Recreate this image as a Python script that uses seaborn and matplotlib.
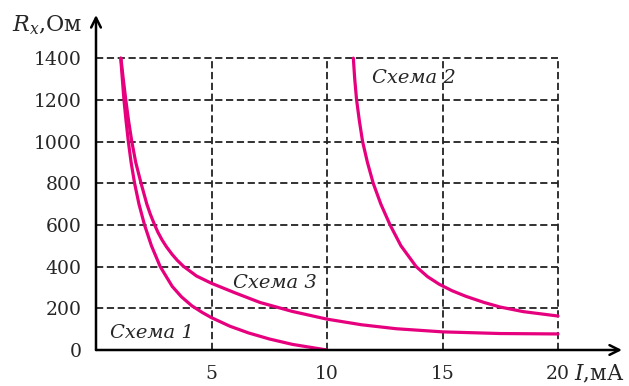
import pandas as pd
import matplotlib
matplotlib.use("Agg")
import matplotlib.pyplot as plt
import seaborn as sns

# values (I in mA, R in Ohm)
i_scheme1 = [1.07, 1.14, 1.21, 1.30, 1.40, 1.52, 1.67, 1.86, 2.10, 2.40, 2.78, 3.30,
             3.70, 4.15, 4.6, 5.0, 5.8, 6.6, 7.5, 8.5, 10.0]
r_scheme1 = [1400, 1300, 1200, 1100, 1000, 900, 800, 700, 600, 500, 400, 305,
             255, 212, 180, 155, 114, 82, 53, 27, 0]

i_scheme2 = [11.14, 11.2, 11.28, 11.4, 11.54, 11.75, 12.0, 12.33, 12.73, 13.2, 13.86,
             14.35, 14.85, 15.4, 16.0, 16.8, 17.5, 18.5, 20.0]
r_scheme2 = [1400, 1300, 1200, 1100, 1000, 900, 800, 700, 600, 500, 400,
             352, 316, 285, 258, 228, 206, 184, 163]

i_scheme3 = [1.08, 1.18, 1.29, 1.41, 1.55, 1.72, 1.95, 2.20, 2.35, 2.52, 2.68, 2.86,
             3.05, 3.30, 3.52, 3.78, 4.35, 5.0, 6.0, 7.1, 8.5, 10.0, 11.5, 13.0,
             15.0, 17.5, 20.0]
r_scheme3 = [1400, 1300, 1200, 1100, 1000, 900, 800, 700, 652, 605, 565, 528,
             495, 458, 430, 402, 355, 320, 275, 228, 185, 148, 121, 102,
             87, 79, 77]

x_ticks = [5, 10, 15, 20]
y_ticks = [0, 200, 400, 600, 800, 1000, 1200, 1400]

labels = ["Схема 1", "Схема 2", "Схема 3"]

df = pd.concat([
    pd.DataFrame({"I": i_scheme1, "R": r_scheme1, "scheme": labels[0]}),
    pd.DataFrame({"I": i_scheme2, "R": r_scheme2, "scheme": labels[1]}),
    pd.DataFrame({"I": i_scheme3, "R": r_scheme3, "scheme": labels[2]}),
])

sns.set_style("white")
plt.rcParams["font.family"] = ["DejaVu Serif"]
plt.rcParams["mathtext.fontset"] = "dejavuserif"

pink = "#e6007e"

fig = plt.figure(figsize=(6.29, 3.86), dpi=100)
ax = fig.add_axes([96 / 629, 36 / 386, 526 / 629, 335 / 386])

# dashed grid, closed at I=20 and R=1400
ax.hlines(y_ticks[1:], 0, 20, colors="#222222", linestyles=(0, (4, 2)), lw=1.3, zorder=1)
ax.vlines(x_ticks, 0, 1400, colors="#222222", linestyles=(0, (4, 2)), lw=1.3, zorder=1)

for name in labels:
    sub = df[df["scheme"] == name]
    sns.lineplot(data=sub, x="I", y="R", sort=False, color=pink, lw=2.3,
                 ax=ax, zorder=3, legend=False)

ax.set_xlim(0, 22.77)
ax.set_ylim(0, 1607)
ax.set_xticks(x_ticks)
ax.set_yticks(y_ticks)
ax.tick_params(direction="inout", length=9, width=1.5, labelsize=13.5, pad=6)
ax.set_xlabel("")
ax.set_ylabel("")

for s in ax.spines.values():
    s.set_visible(False)

# axes with arrows
arrow = dict(arrowstyle="->,head_length=0.7,head_width=0.35", lw=1.8, color="black",
             shrinkA=0, shrinkB=0)
ax.annotate("", xy=(1, 0), xytext=(0, 0), xycoords="axes fraction", arrowprops=arrow)
ax.annotate("", xy=(0, 1), xytext=(0, 0), xycoords="axes fraction", arrowprops=arrow)

ax.text(-3.65, 1560, "$R_x$,Ом", fontsize=16, ha="left", va="center", clip_on=False)
ax.text(20.7, -118, "$I$,мА", fontsize=15.5, ha="left", va="center", clip_on=False)

ax.text(0.6, 82, labels[0], fontsize=14, style="italic", ha="left", va="center")
ax.text(11.95, 1305, labels[1], fontsize=14, style="italic", ha="left", va="center")
ax.text(5.93, 321, labels[2], fontsize=14, style="italic", ha="left", va="center")

fig.savefig("out.png", dpi=100)
